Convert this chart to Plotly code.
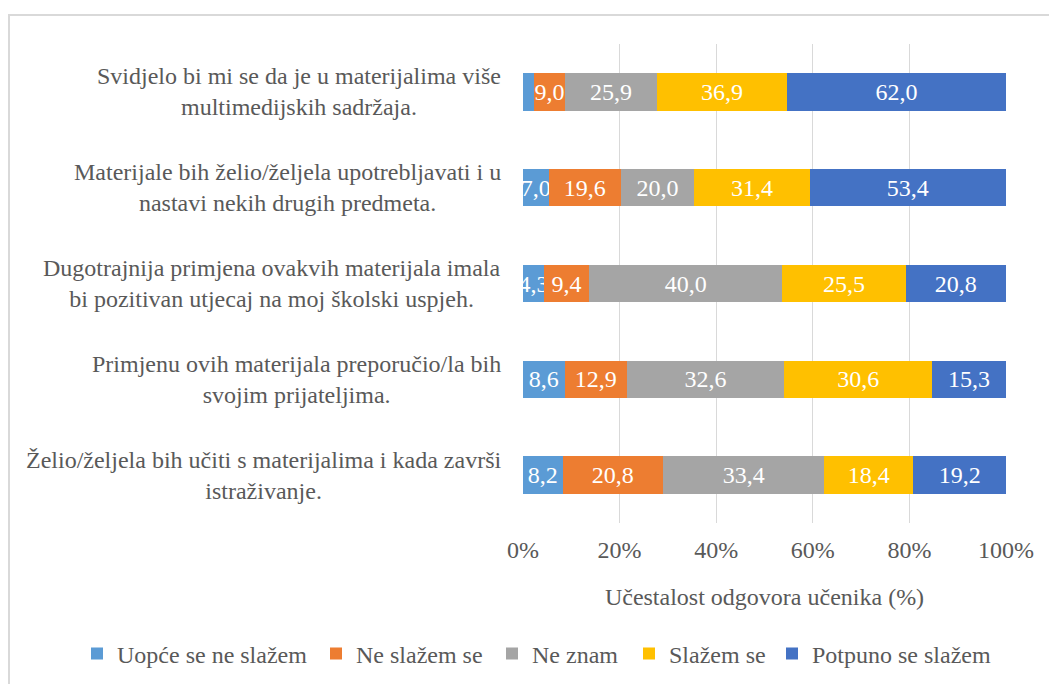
import plotly.graph_objects as go

# Survey statements (top to bottom)
statements = [
    "Svidjelo bi mi se da je u materijalima više<br>multimedijskih sadržaja.",
    "Materijale bih želio/željela upotrebljavati i u<br>nastavi nekih drugih predmeta.",
    "Dugotrajnija primjena ovakvih materijala imala<br>bi pozitivan utjecaj na moj školski uspjeh.",
    "Primjenu ovih materijala preporučio/la bih<br>svojim prijateljima.",
    "Želio/željela bih učiti s materijalima i kada završi<br>istraživanje.",
]

series_names = ["Uopće se ne slažem", "Ne slažem se", "Ne znam", "Slažem se", "Potpuno se slažem"]

uopce_ne = [3.0, 7.0, 4.3, 8.6, 8.2]
ne_slazem = [9.0, 19.6, 9.4, 12.9, 20.8]
ne_znam = [25.9, 20.0, 40.0, 32.6, 33.4]
slazem = [36.9, 31.4, 25.5, 30.6, 18.4]
potpuno = [62.0, 53.4, 20.8, 15.3, 19.2]

# which data labels are shown (first segment of the top row carries none)
show_label = [
    [False, True, True, True, True],
    [True] * 5,
    [True] * 5,
    [True] * 5,
    [True] * 5,
]

x_ticks = [0, 20, 40, 60, 80, 100]
x_tick_text = [f"{t}%" for t in x_ticks]

colors = ["#5B9BD5", "#ED7D31", "#A5A5A5", "#FFC000", "#4472C4"]
series_values = [uopce_ne, ne_slazem, ne_znam, slazem, potpuno]

# left edge (px) of each legend entry along the bottom row
legend_left_px = [77, 316, 492, 629, 772]

FONT = "'Liberation Serif', Tinos, 'Times New Roman', 'DejaVu Serif', serif"
FS = 24
TXT = "#595959"
W, H = 1049, 684

fig = go.Figure()
legend_layouts = {}
for s, (name, vals, col) in enumerate(zip(series_names, series_values, colors)):
    labels = [
        (f"{v:.1f}".replace(".", ",") if show_label[i][s] else "")
        for i, v in enumerate(vals)
    ]
    lg = "legend" if s == 0 else f"legend{s + 1}"
    fig.add_trace(go.Bar(
        y=statements, x=vals, name=name, orientation="h",
        marker=dict(color=col, line=dict(width=0)),
        text=labels, textposition="inside", insidetextanchor="middle",
        textangle=0,
        textfont=dict(color="white", size=FS, family=FONT),
        constraintext="none", legend=lg,
    ))
    legend_layouts[lg] = dict(
        orientation="h", xref="container", yref="container",
        x=legend_left_px[s] / W, xanchor="left",
        y=1 - 654 / H, yanchor="middle",
        bgcolor="rgba(0,0,0,0)", borderwidth=0,
        font=dict(family=FONT, size=FS, color=TXT),
        itemwidth=30,
    )

# category labels drawn as centred multi-line annotations left of the plot
for st in statements:
    fig.add_annotation(
        x=-0.041, y=st, xref="paper", yref="y", text=st, showarrow=False,
        xanchor="right", align="center",
        font=dict(family=FONT, size=FS, color=TXT),
    )

# outer chart frame
fig.add_shape(
    type="rect", xref="paper", yref="paper",
    x0=(9 - 523) / 483, x1=(1070 - 523) / 483,
    y0=(523 - 15) / 479, y1=(523 - 700) / 479,
    line=dict(color="#D9D9D9", width=2), fillcolor="rgba(0,0,0,0)", layer="below",
)

fig.update_layout(
    barmode="stack", barnorm="percent", bargap=0.61,
    width=W, height=H,
    margin=dict(l=523, r=43, t=44, b=161),
    paper_bgcolor="white", plot_bgcolor="white",
    font=dict(family=FONT, size=FS, color=TXT),
    uniformtext=dict(mode="show", minsize=FS),
    showlegend=True,
    xaxis=dict(
        range=[0, 100], tickvals=x_ticks, ticktext=x_tick_text,
        showgrid=True, gridcolor="#D9D9D9", gridwidth=1,
        zeroline=False, showline=False, ticks="",
        ticklabelstandoff=10,
        tickfont=dict(family=FONT, size=FS, color=TXT),
        title=dict(text="Učestalost odgovora učenika (%)", standoff=26,
                   font=dict(family=FONT, size=FS, color=TXT)),
    ),
    yaxis=dict(
        categoryorder="array", categoryarray=statements[::-1],
        showticklabels=False, showgrid=False, zeroline=False, ticks="",
    ),
    **legend_layouts,
)

fig.write_html("out.html")
